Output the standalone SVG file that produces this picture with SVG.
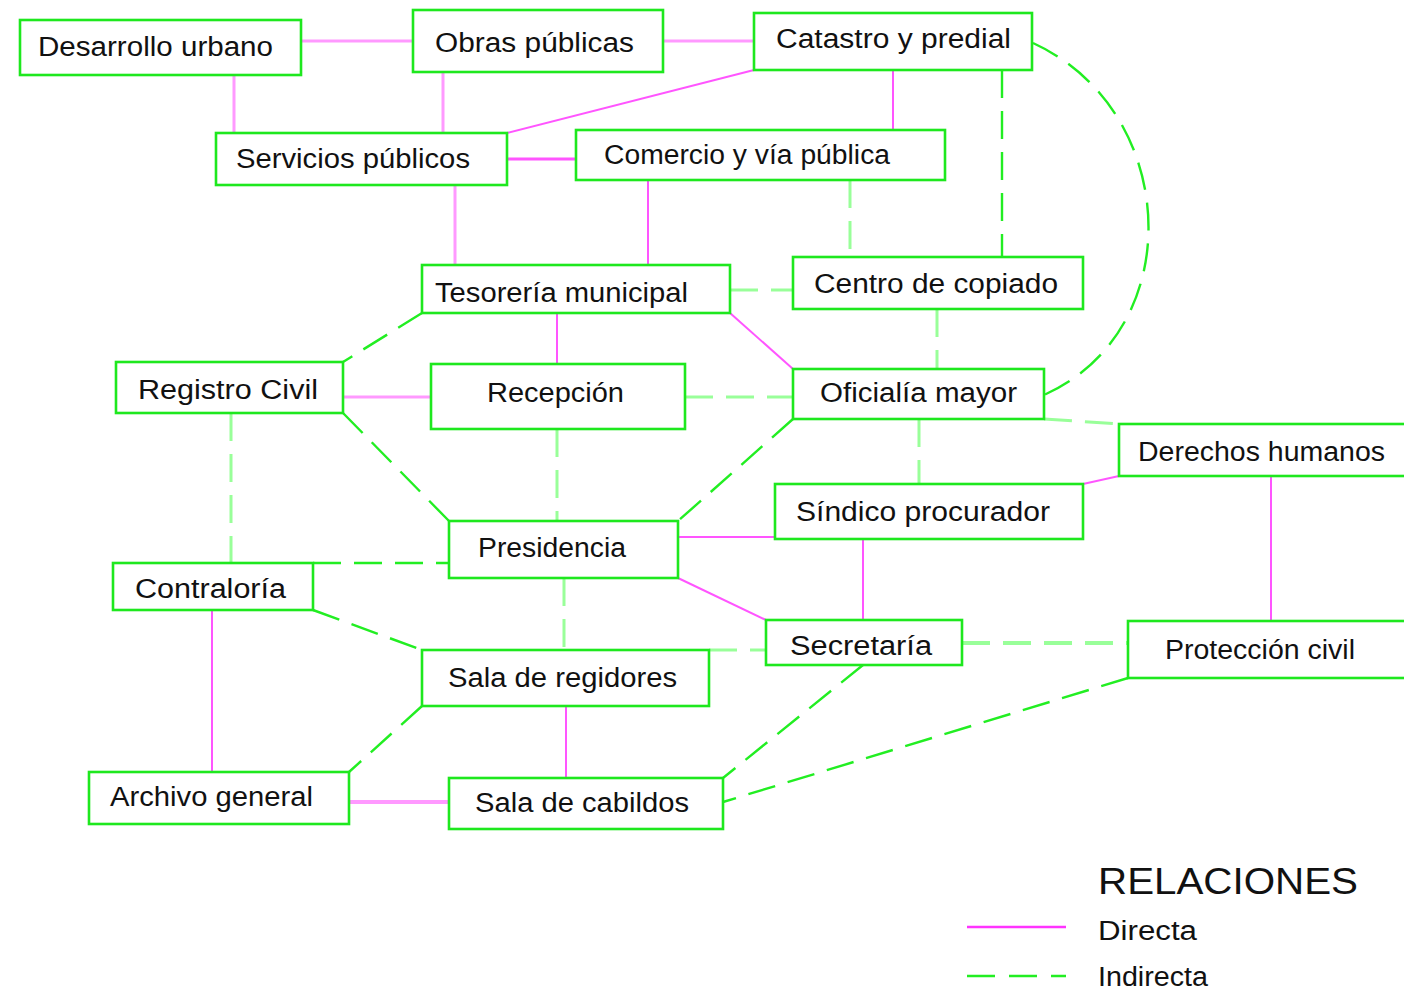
<svg xmlns="http://www.w3.org/2000/svg" width="1404" height="996" viewBox="0 0 1404 996">
<style>
.box{fill:#fff;stroke:#1ee81e;stroke-width:2.6}
.t{font-family:"Liberation Sans",Arial,sans-serif;font-size:27px;fill:#111}
.d{stroke:#ff55ff;stroke-width:2;fill:none}
.dl{stroke:#ff99ff;stroke-width:3;fill:none}
.i{stroke:#22ee22;stroke-width:2.4;fill:none;stroke-dasharray:28 13}
.il{stroke:#99ff99;stroke-width:3;fill:none;stroke-dasharray:28 13}
</style>
<rect width="1404" height="996" fill="#fff"/>
<g id="connectors">
<line class="dl" x1="301" y1="41" x2="413" y2="41"/>
<line class="dl" x1="663" y1="41" x2="754" y2="41"/>
<line class="dl" x1="234" y1="75" x2="234" y2="133"/>
<line class="dl" x1="443" y1="72" x2="443" y2="133"/>
<line class="d" x1="754" y1="70" x2="507" y2="133"/>
<line class="d" style="stroke-width:3" x1="507" y1="159" x2="576" y2="159"/>
<line class="d" x1="893" y1="70" x2="893" y2="130"/>
<line class="dl" x1="455" y1="185" x2="455" y2="265"/>
<line class="d" x1="648" y1="180" x2="648" y2="265"/>
<line class="d" x1="557" y1="313" x2="557" y2="364"/>
<line class="d" x1="730" y1="313" x2="793" y2="369"/>
<line class="dl" x1="343" y1="397" x2="431" y2="397"/>
<line class="d" x1="678" y1="537" x2="775" y2="537"/>
<line class="d" x1="678" y1="578" x2="766" y2="620"/>
<line class="d" x1="1083" y1="484" x2="1119" y2="476"/>
<line class="d" x1="863" y1="539" x2="863" y2="620"/>
<line class="d" x1="1271" y1="476" x2="1271" y2="621"/>
<line class="d" x1="212" y1="610" x2="212" y2="772"/>
<line class="d" x1="566" y1="706" x2="566" y2="778"/>
<line class="dl" style="stroke-width:4" x1="349" y1="802" x2="449" y2="802"/>
<line class="il" x1="850" y1="180" x2="850" y2="257"/>
<line class="i" x1="1002" y1="70" x2="1002" y2="257"/>
<path class="i" d="M1033,43 C1180,110 1190,330 1044,395"/>
<line class="il" x1="730" y1="290" x2="793" y2="290"/>
<line class="il" x1="937" y1="309" x2="937" y2="369"/>
<line class="i" x1="422" y1="313" x2="343" y2="362"/>
<line class="il" x1="685" y1="397" x2="793" y2="397"/>
<line class="il" x1="1044" y1="419" x2="1119" y2="424"/>
<line class="il" x1="919" y1="419" x2="919" y2="484"/>
<line class="i" x1="793" y1="419" x2="678" y2="521"/>
<line class="i" x1="343" y1="413" x2="449" y2="521"/>
<line class="il" x1="231" y1="413" x2="231" y2="563"/>
<line class="il" x1="557" y1="429" x2="557" y2="521"/>
<line class="i" x1="313" y1="563" x2="449" y2="563"/>
<line class="il" x1="564" y1="578" x2="564" y2="650"/>
<line class="i" x1="313" y1="610" x2="422" y2="650"/>
<line class="il" x1="709" y1="650" x2="766" y2="650"/>
<line class="il" style="stroke-width:4" x1="962" y1="643" x2="1128" y2="643"/>
<line class="i" x1="863" y1="665" x2="723" y2="778"/>
<line class="i" x1="1128" y1="678" x2="723" y2="802"/>
<line class="i" x1="422" y1="706" x2="349" y2="772"/>
</g>
<g id="n-desarrollo"><rect class="box" x="20" y="20" width="281" height="55"/><text class="t" x="38" y="56" textLength="235" lengthAdjust="spacingAndGlyphs">Desarrollo urbano</text></g>
<g id="n-obras"><rect class="box" x="413" y="10" width="250" height="62"/><text class="t" x="435" y="52" textLength="199" lengthAdjust="spacingAndGlyphs">Obras públicas</text></g>
<g id="n-catastro"><rect class="box" x="754" y="13" width="278" height="57"/><text class="t" x="776" y="48" textLength="235" lengthAdjust="spacingAndGlyphs">Catastro y predial</text></g>
<g id="n-servicios"><rect class="box" x="216" y="133" width="291" height="52"/><text class="t" x="236" y="168" textLength="234" lengthAdjust="spacingAndGlyphs">Servicios públicos</text></g>
<g id="n-comercio"><rect class="box" x="576" y="130" width="369" height="50"/><text class="t" x="604" y="164" textLength="286" lengthAdjust="spacingAndGlyphs">Comercio y vía pública</text></g>
<g id="n-tesoreria"><rect class="box" x="422" y="265" width="308" height="48"/><text class="t" x="435" y="302" textLength="253" lengthAdjust="spacingAndGlyphs">Tesorería municipal</text></g>
<g id="n-centro"><rect class="box" x="793" y="257" width="290" height="52"/><text class="t" x="814" y="293" textLength="244" lengthAdjust="spacingAndGlyphs">Centro de copiado</text></g>
<g id="n-registro"><rect class="box" x="116" y="362" width="227" height="51"/><text class="t" x="138" y="399" textLength="180" lengthAdjust="spacingAndGlyphs">Registro Civil</text></g>
<g id="n-recepcion"><rect class="box" x="431" y="364" width="254" height="65"/><text class="t" x="487" y="402" textLength="137" lengthAdjust="spacingAndGlyphs">Recepción</text></g>
<g id="n-oficialia"><rect class="box" x="793" y="369" width="251" height="50"/><text class="t" x="820" y="402" textLength="197" lengthAdjust="spacingAndGlyphs">Oficialía mayor</text></g>
<g id="n-derechos"><rect class="box" x="1119" y="424" width="300" height="52"/><text class="t" x="1138" y="461" textLength="247" lengthAdjust="spacingAndGlyphs">Derechos humanos</text></g>
<g id="n-sindico"><rect class="box" x="775" y="484" width="308" height="55"/><text class="t" x="796" y="521" textLength="254" lengthAdjust="spacingAndGlyphs">Síndico procurador</text></g>
<g id="n-presidencia"><rect class="box" x="449" y="521" width="229" height="57"/><text class="t" x="478" y="557" textLength="148" lengthAdjust="spacingAndGlyphs">Presidencia</text></g>
<g id="n-contraloria"><rect class="box" x="113" y="563" width="200" height="47"/><text class="t" x="135" y="598" textLength="151" lengthAdjust="spacingAndGlyphs">Contraloría</text></g>
<g id="n-secretaria"><rect class="box" x="766" y="620" width="196" height="45"/><text class="t" x="790" y="655" textLength="142" lengthAdjust="spacingAndGlyphs">Secretaría</text></g>
<g id="n-proteccion"><rect class="box" x="1128" y="621" width="300" height="57"/><text class="t" x="1165" y="659" textLength="190" lengthAdjust="spacingAndGlyphs">Protección civil</text></g>
<g id="n-regidores"><rect class="box" x="422" y="650" width="287" height="56"/><text class="t" x="448" y="687" textLength="229" lengthAdjust="spacingAndGlyphs">Sala de regidores</text></g>
<g id="n-archivo"><rect class="box" x="89" y="772" width="260" height="52"/><text class="t" x="110" y="806" textLength="203" lengthAdjust="spacingAndGlyphs">Archivo general</text></g>
<g id="n-cabildos"><rect class="box" x="449" y="778" width="274" height="51"/><text class="t" x="475" y="812" textLength="214" lengthAdjust="spacingAndGlyphs">Sala de cabildos</text></g>
<g id="legend">
<text class="t" style="font-size:36px" x="1098" y="894" textLength="260" lengthAdjust="spacingAndGlyphs">RELACIONES</text>
<line x1="967" y1="927" x2="1066" y2="927" style="stroke:#ff33ff;stroke-width:2.5"/>
<text class="t" x="1098" y="940" textLength="99" lengthAdjust="spacingAndGlyphs">Directa</text>
<line x1="967" y1="976" x2="1066" y2="976" style="stroke:#22ee22;stroke-width:2.5;stroke-dasharray:28 14"/>
<text class="t" x="1098" y="986" textLength="110" lengthAdjust="spacingAndGlyphs">Indirecta</text>
</g>
</svg>
